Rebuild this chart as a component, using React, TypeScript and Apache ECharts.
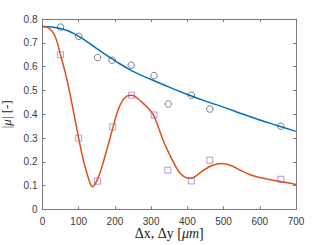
import React, { useEffect, useRef } from "react";
import * as echarts from "echarts";

// Measured points
const circleX = [50, 100, 152, 192, 245, 308, 347, 411, 462, 658];
const circleY = [0.766, 0.727, 0.638, 0.627, 0.606, 0.562, 0.443, 0.48, 0.422, 0.35];
const squareX = [50, 100, 152, 194, 246, 308, 346, 411, 462, 658];
const squareY = [0.65, 0.3, 0.119, 0.347, 0.48, 0.397, 0.165, 0.12, 0.207, 0.127];

// Fitted curves
const blueX = [0, 50, 100, 150, 200, 250, 300, 350, 400, 450, 500, 550, 600, 650, 700];
const blueY = [0.768, 0.76, 0.727, 0.676, 0.625, 0.58, 0.546, 0.514, 0.483, 0.455, 0.43, 0.402, 0.376, 0.352, 0.328];
const orangeX = [0, 15, 30, 40, 50, 62, 75, 87, 100, 112, 124, 132, 137, 142, 150, 160, 170, 182, 195, 207, 220, 233, 246, 260, 275, 290, 306, 320, 333, 347, 361, 374, 387, 400, 410, 425, 445, 470, 495, 520, 545, 570, 600, 630, 660, 700];
const orangeY = [0.768, 0.764, 0.742, 0.705, 0.648, 0.58, 0.493, 0.4, 0.298, 0.212, 0.145, 0.108, 0.096, 0.1, 0.12, 0.16, 0.21, 0.275, 0.347, 0.41, 0.455, 0.476, 0.48, 0.47, 0.45, 0.428, 0.398, 0.345, 0.291, 0.243, 0.2, 0.165, 0.142, 0.132, 0.131, 0.142, 0.165, 0.186, 0.193, 0.185, 0.166, 0.148, 0.134, 0.125, 0.117, 0.105];

const xTicks = [0, 100, 200, 300, 400, 500, 600, 700];
const yTicks = [0, 0.1, 0.2, 0.3, 0.4, 0.5, 0.6, 0.7, 0.8];

const zip = (xs: number[], ys: number[]) => xs.map((x, i) => [x, ys[i]]);

export default function App() {
  const ref = useRef<HTMLDivElement>(null);
  useEffect(() => {
    document.body.style.margin = "0";
    const chart = echarts.init(ref.current!, null, { renderer: "svg" });
    const axisColor = "#7a7a7a";
    const labelColor = "#3a3a3a";
    const sans = "Liberation Sans, Arial, sans-serif";
    const serif = "Liberation Serif, DejaVu Serif, serif";
    const xAxisBase = {
      type: "value",
      min: xTicks[0],
      max: xTicks[xTicks.length - 1],
      interval: 100,
      axisLine: { show: true, onZero: false, lineStyle: { color: axisColor, width: 1 } },
      axisTick: { show: true, inside: true, length: 3, lineStyle: { color: axisColor } },
      splitLine: { show: false },
    };
    const yAxisBase = {
      type: "value",
      min: yTicks[0],
      max: yTicks[yTicks.length - 1],
      interval: 0.1,
      axisLine: { show: true, onZero: false, lineStyle: { color: axisColor, width: 1 } },
      axisTick: { show: true, inside: true, length: 3, lineStyle: { color: axisColor } },
      splitLine: { show: false },
    };
    chart.setOption({
      animation: false,
      grid: {
        left: 42.5,
        right: 31,
        top: 19,
        bottom: 35.5,
        containLabel: false,
        outerBoundsMode: "none",
      },
      xAxis: [
        {
          ...xAxisBase,
          position: "bottom",
          axisLabel: { color: labelColor, fontSize: 10, fontFamily: sans, margin: 7 },
          name: "{a|Δx, Δy [}{b|μm}{a|]}",
          nameLocation: "middle",
          nameMoveOverlap: false,
          nameGap: 16.5,
          nameTextStyle: {
            rich: {
              a: { fontFamily: serif, fontSize: 14, color: "#222", lineHeight: 15 },
              b: { fontFamily: serif, fontSize: 14, fontStyle: "italic", color: "#222", lineHeight: 15 },
            },
          },
        },
        { ...xAxisBase, position: "top", axisLabel: { show: false } },
      ],
      yAxis: [
        {
          ...yAxisBase,
          position: "left",
          axisLabel: {
            color: labelColor,
            fontSize: 10,
            fontFamily: sans,
            margin: 5,
            formatter: (v: number) => (v === 0 ? "0" : v.toFixed(1)),
          },
          name: "{a||}{b|μ}{a|| [-]}",
          nameLocation: "middle",
          nameGap: 22,
          nameTextStyle: {
            rich: {
              a: { fontFamily: serif, fontSize: 13, color: "#222" },
              b: { fontFamily: serif, fontSize: 13, fontStyle: "italic", color: "#222" },
            },
          },
        },
        { ...yAxisBase, position: "right", axisLabel: { show: false } },
      ],
      series: [
        {
          type: "line",
          data: zip(blueX, blueY),
          smooth: true,
          showSymbol: false,
          lineStyle: { color: "#0072BD", width: 1.5 },
          z: 2,
        },
        {
          type: "line",
          data: zip(orangeX, orangeY),
          smooth: 0.3,
          showSymbol: false,
          lineStyle: { color: "#D95319", width: 1.5 },
          z: 2,
        },
        {
          type: "scatter",
          data: zip(circleX, circleY),
          symbol: "circle",
          symbolSize: 6.5,
          itemStyle: { color: "rgba(0,0,0,0)", borderColor: "#333", borderWidth: 0.8 },
          z: 3,
        },
        {
          type: "scatter",
          data: zip(squareX, squareY),
          symbol: "rect",
          symbolSize: 6,
          itemStyle: { color: "rgba(0,0,0,0)", borderColor: "#9B5BB5", borderWidth: 0.8 },
          z: 3,
        },
      ],
    });
    return () => chart.dispose();
  }, []);
  return <div ref={ref} style={{ width: 327, height: 245 }} />;
}
